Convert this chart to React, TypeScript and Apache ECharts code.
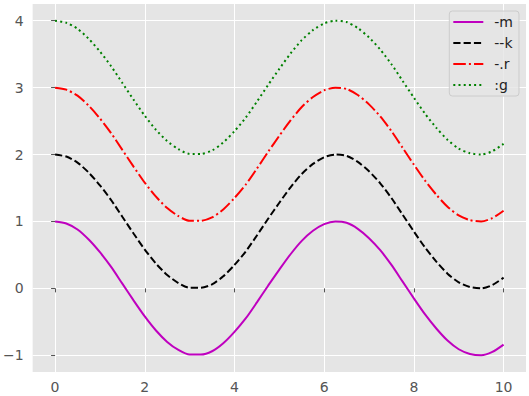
import React, { useEffect, useRef } from "react";
import * as echarts from "echarts";

const xValues = [0, 0.25, 0.5, 0.75, 1, 1.25, 1.5, 1.75, 2, 2.25, 2.5, 2.75, 3, 3.25, 3.5, 3.75, 4, 4.25, 4.5, 4.75, 5, 5.25, 5.5, 5.75, 6, 6.25, 6.5, 6.75, 7, 7.25, 7.5, 7.75, 8, 8.25, 8.5, 8.75, 9, 9.25, 9.5, 9.75, 10];

const seriesM = [1.00, 0.97, 0.88, 0.73, 0.54, 0.32, 0.07, -0.18, -0.42, -0.63, -0.80, -0.92, -0.99, -0.99, -0.94, -0.82, -0.65, -0.45, -0.21, 0.04, 0.28, 0.51, 0.71, 0.86, 0.96, 1.00, 0.98, 0.89, 0.75, 0.57, 0.35, 0.10, -0.15, -0.39, -0.60, -0.78, -0.91, -0.98, -1.00, -0.95, -0.84];
const seriesK = [2.00, 1.97, 1.88, 1.73, 1.54, 1.32, 1.07, 0.82, 0.58, 0.37, 0.20, 0.08, 0.01, 0.01, 0.06, 0.18, 0.35, 0.55, 0.79, 1.04, 1.28, 1.51, 1.71, 1.86, 1.96, 2.00, 1.98, 1.89, 1.75, 1.57, 1.35, 1.10, 0.85, 0.61, 0.40, 0.22, 0.09, 0.02, 0.00, 0.05, 0.16];
const seriesR = [3.00, 2.97, 2.88, 2.73, 2.54, 2.32, 2.07, 1.82, 1.58, 1.37, 1.20, 1.08, 1.01, 1.01, 1.06, 1.18, 1.35, 1.55, 1.79, 2.04, 2.28, 2.51, 2.71, 2.86, 2.96, 3.00, 2.98, 2.89, 2.75, 2.57, 2.35, 2.10, 1.85, 1.61, 1.40, 1.22, 1.09, 1.02, 1.00, 1.05, 1.16];
const seriesG = [4.00, 3.97, 3.88, 3.73, 3.54, 3.32, 3.07, 2.82, 2.58, 2.37, 2.20, 2.08, 2.01, 2.01, 2.06, 2.18, 2.35, 2.55, 2.79, 3.04, 3.28, 3.51, 3.71, 3.86, 3.96, 4.00, 3.98, 3.89, 3.75, 3.57, 3.35, 3.10, 2.85, 2.61, 2.40, 2.22, 2.09, 2.02, 2.00, 2.05, 2.16];

const seriesNames = ["-m", "--k", "-.r", ":g"];
const xTicks = [0, 2, 4, 6, 8, 10];
const yTicks = [-1, 0, 1, 2, 3, 4];

const FONT = "DejaVu Sans";

export default function App() {
  const ref = useRef<HTMLDivElement>(null);
  useEffect(() => {
    if (!ref.current) return;
    const chart = echarts.init(ref.current, undefined, { renderer: "svg" });
    const mk = (vals: number[]) => xValues.map((x, i) => [x, vals[i]]);
    const fmt = (v: number) => String(v).replace("-", "\u2212");
    const styles = [
      { color: "#bf00bf", type: "solid" as any },
      { color: "#000000", type: [7.2, 3.1] },
      { color: "#ff0000", type: [12.5, 3.1, 2, 3.1] },
      { color: "#008000", type: [2, 3.2] },
    ];
    const data = [seriesM, seriesK, seriesR, seriesG];
    chart.setOption({
      animation: false,
      textStyle: { fontFamily: FONT },
      grid: {
        left: 31,
        right: 3,
        top: 4,
        bottom: 24,
        show: true,
        backgroundColor: "#e5e5e5",
        borderWidth: 0,
      },
      legend: {
        orient: "vertical",
        right: 10,
        top: 11,
        backgroundColor: "rgba(229,229,229,0.8)",
        borderColor: "#cccccc",
        borderWidth: 1,
        borderRadius: 3,
        padding: [4, 6, 4, 3],
        itemWidth: 30,
        itemHeight: 14,
        itemGap: 7,
        itemStyle: { opacity: 0 },
        textStyle: { fontFamily: FONT, fontSize: 14, color: "#222", padding: [0, 0, 0, 6] },
        data: seriesNames,
      },
      xAxis: {
        type: "value",
        min: -0.5,
        max: 10.5,
        axisLine: { show: false },
        axisTick: { show: true, length: 4, lineStyle: { color: "#555" }, customValues: xTicks },
        axisLabel: { color: "#555", fontSize: 14, margin: 8, customValues: xTicks, formatter: fmt },
        splitLine: { show: true, lineStyle: { color: "#ffffff", width: 1 } },
      },
      yAxis: {
        type: "value",
        min: -1.25,
        max: 4.25,
        axisLine: { show: false },
        axisTick: { show: true, length: 4, lineStyle: { color: "#555" }, customValues: yTicks },
        axisLabel: { color: "#555", fontSize: 14, margin: 9, customValues: yTicks, formatter: fmt },
        splitLine: { show: true, lineStyle: { color: "#ffffff", width: 1 } },
      },
      series: seriesNames.map((name, i) => ({
        name,
        type: "line",
        data: mk(data[i]),
        smooth: 0.25,
        symbol: "none",
        showSymbol: false,
        color: styles[i].color,
        lineStyle: { color: styles[i].color, width: 2, type: styles[i].type },
      })),
    });
    return () => chart.dispose();
  }, []);
  return <div ref={ref} style={{ width: 529, height: 396, position: "absolute", left: 0, top: 0 }} />;
}
